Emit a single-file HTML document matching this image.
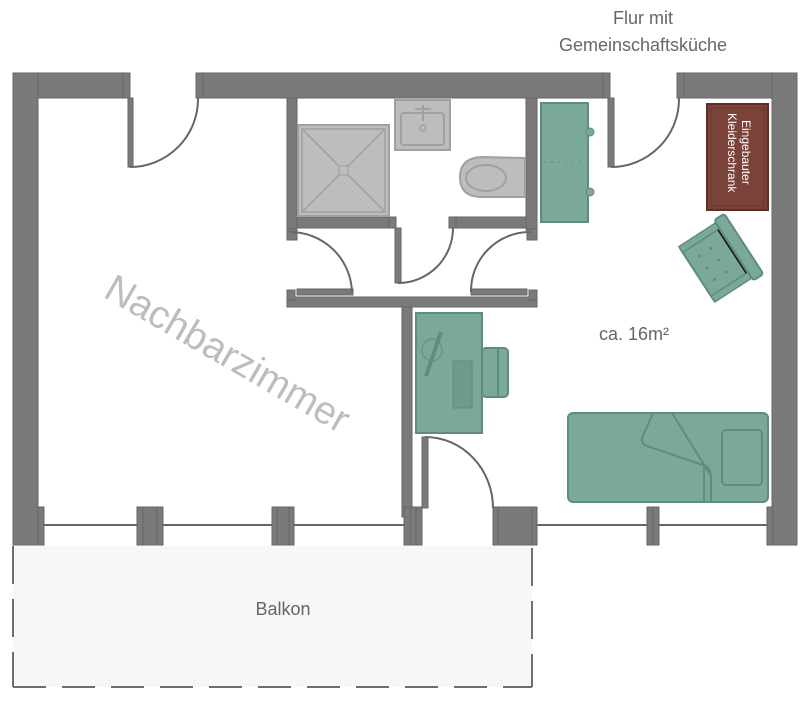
<!DOCTYPE html>
<html><head><meta charset="utf-8"><style>
html,body{margin:0;padding:0;background:#fff;}
svg{display:block;font-family:"Liberation Sans",sans-serif;}
</style></head><body>
<svg width="805" height="701" viewBox="0 0 805 701" xmlns="http://www.w3.org/2000/svg">
<!-- Balcony -->
<rect x="13" y="546" width="519" height="141" fill="#f7f7f7"/>
<g stroke="#6e6e6e" stroke-width="2" fill="none">
<line x1="13" y1="546" x2="13" y2="687" stroke-dasharray="38,15"/>
<line x1="532" y1="548" x2="532" y2="687" stroke-dasharray="38,15"/>
<line x1="13" y1="687" x2="532" y2="687" stroke-dasharray="33,16"/>
</g>
<text x="283" y="615" font-size="18" fill="#666" text-anchor="middle">Balkon</text>
<text x="643" y="24" font-size="18" fill="#666" text-anchor="middle">Flur mit</text>
<text x="643" y="51" font-size="18" fill="#666" text-anchor="middle">Gemeinschaftsküche</text>

<g fill="#7a7a7a" stroke="#666" stroke-width="1">
<rect x="13" y="73" width="112" height="25"/>
<rect x="201" y="73" width="406" height="25"/>
<rect x="679" y="73" width="118" height="25"/>
<rect x="13" y="73" width="25" height="472"/>
<rect x="772" y="73" width="25" height="472"/>
<rect x="123" y="73" width="7" height="25"/>
<rect x="196" y="73" width="7" height="25"/>
<rect x="603" y="73" width="7" height="25"/>
<rect x="677" y="73" width="7" height="25"/>
<rect x="287" y="98" width="10" height="132"/>
<rect x="526" y="98" width="11" height="132"/>
<rect x="297" y="217" width="96" height="11"/>
<rect x="455" y="217" width="71" height="11"/>
<rect x="389" y="217" width="7" height="11"/>
<rect x="449" y="217" width="7" height="11"/>
<rect x="287" y="229" width="10" height="11"/>
<rect x="527" y="229" width="10" height="11"/>
<rect x="287" y="297" width="250" height="10"/>
<rect x="287" y="290" width="8" height="10"/>
<rect x="529" y="290" width="8" height="10"/>
<rect x="402" y="307" width="10" height="210"/>
<rect x="128" y="98" width="5" height="69"/>
<rect x="608" y="98" width="6" height="69"/>
<rect x="395" y="228" width="6" height="55"/>
<rect x="297" y="289" width="56" height="6"/>
<rect x="471" y="289" width="56" height="6"/>
<rect x="422" y="437" width="6" height="71"/>
<rect x="38" y="507" width="6" height="38"/>
<rect x="137" y="507" width="26" height="38"/>
<rect x="272" y="507" width="22" height="38"/>
<rect x="404" y="507" width="18" height="38"/>
<rect x="493" y="507" width="44" height="38"/>
<rect x="647" y="507" width="12" height="38"/>
<rect x="767" y="507" width="6" height="38"/>
</g>
<g stroke="#666" stroke-width="1">
<line x1="143" y1="507" x2="143" y2="545"/><line x1="157" y1="507" x2="157" y2="545"/>
<line x1="277" y1="507" x2="277" y2="545"/><line x1="289" y1="507" x2="289" y2="545"/>
<line x1="410" y1="507" x2="410" y2="545"/><line x1="416" y1="507" x2="416" y2="545"/>
<line x1="498" y1="507" x2="498" y2="545"/><line x1="532" y1="507" x2="532" y2="545"/>
<line x1="653" y1="507" x2="653" y2="545"/>
</g>
<g stroke="#666" stroke-width="2" fill="none">
<line x1="44" y1="525" x2="137" y2="525"/>
<line x1="163" y1="525" x2="272" y2="525"/>
<line x1="294" y1="525" x2="404" y2="525"/>
<line x1="537" y1="525" x2="647" y2="525"/>
<line x1="659" y1="525" x2="767" y2="525"/>
<path d="M130 167 A68 68 0 0 0 198 98"/>
<path d="M611 167 A68 68 0 0 0 679 98"/>
<path d="M398 283 A55 55 0 0 0 453 228"/>
<path d="M290 232 A62 62 0 0 1 352 292"/>
<path d="M530 232 A59 59 0 0 0 471 292"/>
<path d="M425 437 A68 71 0 0 1 493 508"/>
</g>
<!-- bathroom fixtures -->
<rect x="298" y="125" width="91" height="91" fill="#bdbdbd" stroke="#a0a0a0" stroke-width="2"/>
<rect x="302" y="129" width="83" height="83" fill="none" stroke="#a0a0a0" stroke-width="1.5"/>
<path d="M302 129 L385 212 M385 129 L302 212" stroke="#a0a0a0" stroke-width="1.5"/>
<rect x="339" y="166" width="9" height="9" fill="#bdbdbd" stroke="#a0a0a0"/>
<rect x="395" y="100" width="55" height="50" fill="#bdbdbd" stroke="#a0a0a0" stroke-width="2"/>
<rect x="401" y="113" width="43" height="32" rx="3" fill="none" stroke="#a0a0a0" stroke-width="2"/>
<circle cx="423" cy="128" r="3" fill="none" stroke="#a0a0a0" stroke-width="1.5"/>
<path d="M423 105 V121 M415 109 H431" stroke="#a0a0a0" stroke-width="2"/>
<path d="M525 158 L482 157 Q460 158 460 177 Q460 197 482 197 L525 197 Z" fill="#bdbdbd" stroke="#a0a0a0" stroke-width="2"/>
<ellipse cx="486" cy="178" rx="20" ry="13" fill="none" stroke="#a0a0a0" stroke-width="2"/>
<!-- green cabinet -->
<rect x="541" y="103" width="47" height="119" fill="#7aa89b" stroke="#5f8c7f" stroke-width="2"/>
<circle cx="590" cy="132" r="4" fill="#7aa89b" stroke="#5f8c7f"/>
<circle cx="590" cy="192" r="4" fill="#7aa89b" stroke="#5f8c7f"/>
<line x1="544" y1="162" x2="585" y2="162" stroke="#5f8c7f" stroke-dasharray="2,5"/>
<!-- wardrobe -->
<rect x="707" y="104" width="61" height="106" fill="#7a4238" stroke="#5e2f27" stroke-width="2"/>
<rect x="711" y="108" width="53" height="98" fill="none" stroke="#6a362d" stroke-width="1"/>
<text transform="translate(742,120) rotate(90)" font-size="12" fill="#fff">Eingebauter</text>
<text transform="translate(728,113) rotate(90)" font-size="12" fill="#fff">Kleiderschrank</text>
<!-- armchair -->
<g transform="translate(722,258) rotate(-33)">
<rect x="-30" y="-30" width="50" height="60" fill="#7aa89b" stroke="#5f8c7f" stroke-width="2"/>
<rect x="-30" y="-33" width="48" height="7" fill="#7aa89b" stroke="#5f8c7f" stroke-width="1.5"/>
<rect x="-30" y="26" width="48" height="7" fill="#7aa89b" stroke="#5f8c7f" stroke-width="1.5"/>
<rect x="14" y="-36" width="12" height="72" rx="3" fill="#7aa89b" stroke="#5f8c7f" stroke-width="2"/>
<line x1="12" y1="-26" x2="12" y2="26" stroke="#111" stroke-width="1.5"/>
<g fill="#5f8c7f"><circle cx="-18" cy="-14" r="1.5"/><circle cx="-18" cy="0" r="1.5"/><circle cx="-18" cy="14" r="1.5"/><circle cx="-4" cy="-14" r="1.5"/><circle cx="-4" cy="0" r="1.5"/><circle cx="-4" cy="14" r="1.5"/></g>
</g>
<!-- desk -->
<rect x="416" y="313" width="66" height="120" fill="#7aa89b" stroke="#5f8c7f" stroke-width="2"/>
<rect x="482" y="348" width="26" height="49" rx="4" fill="#7aa89b" stroke="#5f8c7f" stroke-width="2"/>
<line x1="498" y1="349" x2="498" y2="396" stroke="#5f8c7f" stroke-width="2"/>
<rect x="453" y="361" width="19" height="47" fill="#6d9a8d" stroke="#5f8c7f"/>
<ellipse cx="432" cy="350" rx="10" ry="11" fill="none" stroke="#5f8c7f"/>
<line x1="441" y1="332" x2="426" y2="376" stroke="#5f8c7f" stroke-width="4"/>
<!-- bed -->
<rect x="568" y="413" width="200" height="89" rx="5" fill="#7aa89b" stroke="#5f8c7f" stroke-width="2"/>
<rect x="722" y="430" width="40" height="55" rx="4" fill="none" stroke="#5f8c7f" stroke-width="2"/>
<path d="M653 413 L642 438 Q641 444 647 446 L706 466 Q711 470 711 476 L711 502" fill="none" stroke="#5f8c7f" stroke-width="2"/>
<path d="M672 413 L711 476" fill="none" stroke="#5f8c7f" stroke-width="2"/>
<line x1="704" y1="466" x2="704" y2="502" stroke="#5f8c7f" stroke-width="2"/>
<text x="634" y="340" font-size="18" fill="#666" text-anchor="middle">ca. 16m²</text>
<text transform="translate(221,365) rotate(30)" font-size="39" fill="#bdbdbd" text-anchor="middle">Nachbarzimmer</text>
</svg>
</body></html>
